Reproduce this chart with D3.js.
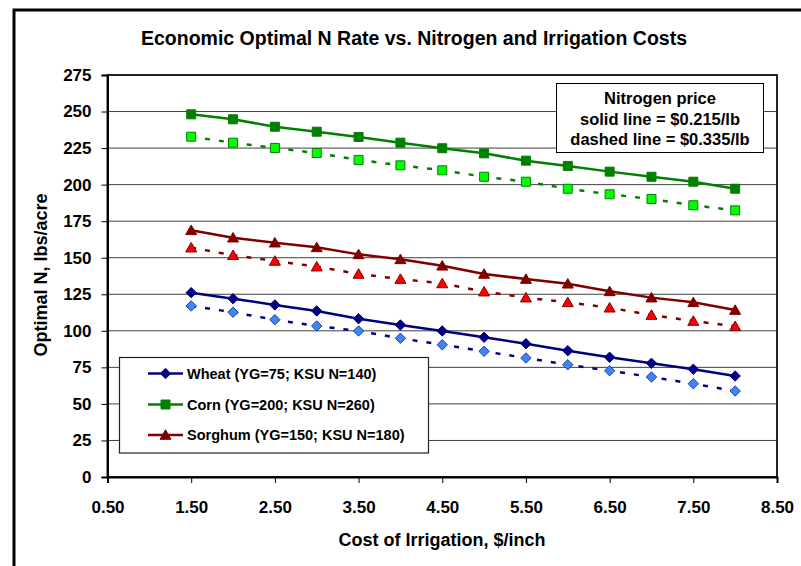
<!DOCTYPE html>
<html><head><meta charset="utf-8">
<script src="https://cdn.jsdelivr.net/npm/d3@7"></script>
<style>
html,body{margin:0;padding:0;background:#fff;}
svg{display:block;font-family:"Liberation Sans",Arial,sans-serif;font-weight:bold;}
</style></head>
<body>
<svg id="chart" width="801" height="566"></svg>
<script>
const irrigationCost = [1.5,2,2.5,3,3.5,4,4.5,5,5.5,6,6.5,7,7.5,8];
const wheatSolid   = [126.1,122.0,117.7,113.6,108.3,104.0,99.9,95.6,91.2,86.4,81.9,77.8,73.7,69.1];
const wheatDashed  = [117.0,112.7,107.6,103.3,99.9,94.9,90.5,86.0,81.4,76.8,72.7,68.4,63.8,58.8];
const cornSolid    = [248.1,244.7,239.6,236.2,232.6,228.7,224.9,221.4,216.4,212.8,208.9,205.4,202.0,197.2];
const cornDashed   = [232.8,228.7,225.1,221.6,216.9,213.2,209.8,205.4,202.0,197.2,193.4,190.2,185.9,182.4];
const sorghumSolid = [168.8,163.7,160.3,157.1,152.3,148.9,144.5,138.9,135.4,132.2,127.0,122.7,119.5,114.2];
const sorghumDashed= [156.9,151.7,147.8,143.9,138.9,135.4,132.4,126.8,122.7,119.5,115.8,110.8,106.7,103.1];
const yTicks = [0,25,50,75,100,125,150,175,200,225,250,275];
const xTicks = [0.5,1.5,2.5,3.5,4.5,5.5,6.5,7.5,8.5];
const legendLabels = ["Wheat (YG=75; KSU N=140)","Corn (YG=200; KSU N=260)","Sorghum (YG=150; KSU N=180)"];
const noteLines = ["Nitrogen price","solid line = $0.215/lb","dashed line = $0.335/lb"];
const titleText = "Economic Optimal N Rate vs. Nitrogen and Irrigation Costs";
const xTitle = "Cost of Irrigation, $/inch";
const yTitle = "Optimal N, lbs/acre";

const series = [
  {values: wheatSolid,   line:"#000080", fill:"#000080", stroke:"#000080", shape:"diamond", dashed:false},
  {values: wheatDashed,  line:"#000080", fill:"#3F86F5", stroke:"#1F3FA8", shape:"diamond", dashed:true},
  {values: cornSolid,    line:"#008000", fill:"#008000", stroke:"#008000", shape:"square",  dashed:false},
  {values: cornDashed,   line:"#008000", fill:"#00FF00", stroke:"#008000", shape:"square",  dashed:true},
  {values: sorghumSolid, line:"#800000", fill:"#800000", stroke:"#800000", shape:"triangle",dashed:false},
  {values: sorghumDashed,line:"#800000", fill:"#FF0000", stroke:"#800000", shape:"triangle",dashed:true}
];
const legendSeries = [series[0], series[2], series[4]];

const svg = d3.select("#chart");
const L=107.5, R=777, T=75, B=477;
const x = d3.scaleLinear().domain([0.5,8.5]).range([L,R]);
const y = d3.scaleLinear().domain([0,275]).range([B,T]);

// outer frame
svg.append("rect").attr("x",14).attr("y",10).attr("width",900).attr("height",700)
  .attr("fill","#fff").attr("stroke","#000").attr("stroke-width",3);

// title
svg.append("text").attr("x",414).attr("y",45).attr("text-anchor","middle")
  .attr("font-size",19.5).text(titleText);

// gridlines
svg.append("g").selectAll("line").data(yTicks.filter(d=>d>0&&d<275)).join("line")
  .attr("x1",L).attr("x2",R).attr("y1",d=>y(d)).attr("y2",d=>y(d))
  .attr("stroke","#404040").attr("stroke-width",1);

// plot border
svg.append("rect").attr("x",L).attr("y",T).attr("width",R-L).attr("height",B-T)
  .attr("fill","none").attr("stroke","#222").attr("stroke-width",2);

// axes
const yAxis = svg.append("g").attr("transform",`translate(${L},0)`)
  .call(d3.axisLeft(y).tickValues(yTicks).tickSize(6).tickPadding(10).tickFormat(d3.format("d")));
const xAxis = svg.append("g").attr("transform",`translate(0,${B})`)
  .call(d3.axisBottom(x).tickValues(xTicks).tickSize(6).tickPadding(18).tickFormat(d3.format(".2f")));
[yAxis,xAxis].forEach(g=>{
  g.select(".domain").attr("stroke","#000").attr("stroke-width",2);
  g.selectAll(".tick line").attr("stroke","#000").attr("stroke-width",1);
  g.selectAll(".tick text").attr("fill","#000").attr("font-size",17)
    .attr("font-family","Liberation Sans, Arial, sans-serif").attr("font-weight","bold");
});

// axis titles
svg.append("text").attr("x",442).attr("y",546).attr("text-anchor","middle")
  .attr("font-size",18).text(xTitle);
svg.append("text").attr("transform","translate(46.5,275) rotate(-90)").attr("text-anchor","middle")
  .attr("font-size",18).text(yTitle);

function markerPath(shape){
  if(shape==="square") return "M-4.5,-4.5H4.5V4.5H-4.5Z";
  if(shape==="diamond") return "M0,-5.2L5.2,0L0,5.2L-5.2,0Z";
  return "M0,-5.2L5.5,4.3L-5.5,4.3Z";
}

const line = d3.line().x((d,i)=>x(irrigationCost[i])).y(d=>y(d));
series.forEach(s=>{
  svg.append("path").datum(s.values).attr("d",line).attr("fill","none")
    .attr("stroke",s.line).attr("stroke-width",2.5)
    .attr("stroke-dasharray", s.dashed ? "5,9" : null);
});
series.forEach(s=>{
  svg.append("g").selectAll("path").data(s.values).join("path")
    .attr("transform",(d,i)=>`translate(${x(irrigationCost[i])},${y(d)})`)
    .attr("d",markerPath(s.shape)).attr("fill",s.fill).attr("stroke",s.stroke).attr("stroke-width",1);
});

// legend
svg.append("rect").attr("x",119.5).attr("y",357.5).attr("width",309).attr("height",95.5)
  .attr("fill","#fff").attr("stroke","#222").attr("stroke-width",1.2);
const rowsY=[373.5,404.5,435];
legendSeries.forEach((s,i)=>{
  const g=svg.append("g");
  g.append("line").attr("x1",148).attr("x2",183).attr("y1",rowsY[i]).attr("y2",rowsY[i])
    .attr("stroke",s.line).attr("stroke-width",2.5);
  g.append("path").attr("transform",`translate(165.5,${rowsY[i]})`).attr("d",markerPath(s.shape))
    .attr("fill",s.fill).attr("stroke",s.stroke);
  g.append("text").attr("x",187).attr("y",rowsY[i]+5).attr("font-size",14.5).text(legendLabels[i]);
});

// note box
svg.append("rect").attr("x",556.5).attr("y",83.5).attr("width",207).attr("height",69)
  .attr("fill","#fff").attr("stroke","#000").attr("stroke-width",1);
const noteY=[103.5,124.5,145];
noteLines.forEach((t,i)=>{
  svg.append("text").attr("x",660).attr("y",noteY[i]).attr("text-anchor","middle")
    .attr("font-size",16.5).text(t);
});
</script>
</body></html>
